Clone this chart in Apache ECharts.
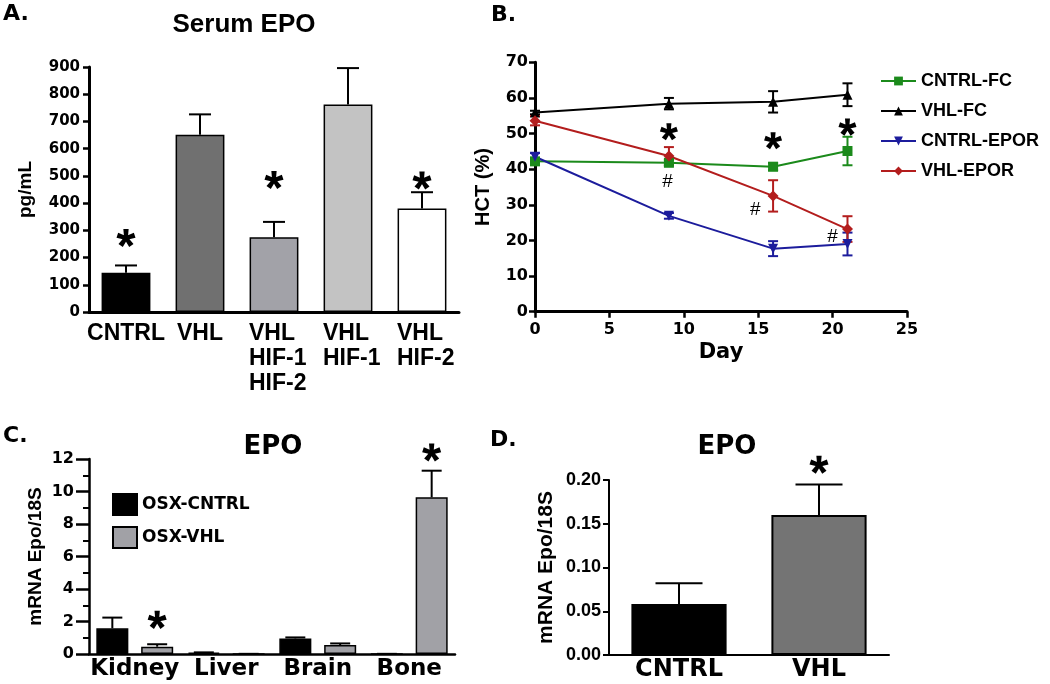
<!DOCTYPE html>
<html><head><meta charset="utf-8">
<script src="https://cdn.jsdelivr.net/npm/echarts@6/dist/echarts.min.js"></script>
<style>html,body{margin:0;padding:0;background:#fff}#c{width:1050px;height:684px}</style>
</head><body><div id="c"></div>
<script>
// ---------- Panel A: Serum EPO ----------
const aCategories = ['CNTRL', 'VHL', 'VHL\nHIF-1\nHIF-2', 'VHL\nHIF-1', 'VHL\nHIF-2'];
const aMeans = [144, 651, 275, 762, 380];
const aErrTop = [171, 726, 331, 896, 440];
const aBarColors = ['#000000', '#707070', '#a2a2a8', '#c3c3c3', '#ffffff'];
const aStars = [[0, 272], [2, 485], [4, 483]];

// ---------- Panel B: HCT ----------
const bDays = [0, 9, 16, 21];
const bNames = ['CNTRL-FC', 'VHL-FC', 'CNTRL-EPOR', 'VHL-EPOR'];
const bCntrlFC = [42.2, 41.8, 40.7, 45.1];
const bCntrlFCErr = [0.8, 0.8, 1.0, 4.0];
const bVhlFC = [55.9, 58.4, 58.9, 60.9];
const bVhlFCErr = [0.5, 1.6, 3.0, 3.2];
const bCntrlEPOR = [43.5, 26.9, 17.7, 19.0];
const bCntrlEPORErr = [1.0, 0.8, 2.1, 3.2];
const bVhlEPOR = [53.6, 43.7, 32.5, 23.2];
const bVhlEPORErr = [1.3, 2.5, 4.4, 3.6];
const bStars = [[9, 50.5], [16, 48.0], [21, 51.8]];
const bHashes = [[8.9, 36.5], [14.8, 28.5], [20.0, 21.0]];

// ---------- Panel C: EPO by tissue ----------
const cCategories = ['Kidney', 'Liver', 'Brain', 'Bone'];
const cNames = ['OSX-CNTRL', 'OSX-VHL'];
const cCntrl = [1.58, 0.08, 0.96, 0.01];
const cCntrlErrTop = [2.24, 0.10, 1.02, 0.01];
const cVhl = [0.45, 0.01, 0.55, 9.64];
const cVhlErrTop = [0.60, 0.01, 0.65, 11.28];
const cStars = [[0, 2.1], [3, 12.4]];

// ---------- Panel D: EPO bone ----------
const dCategories = ['CNTRL', 'VHL'];
const dMeans = [0.0584, 0.160];
const dErrTop = [0.082, 0.195];
const dBarColors = ['#000000', '#747474'];
const dStars = [[1, 0.2174]];

// ---------- styling ----------
const FD = '"DejaVu Sans", sans-serif';
const FL = '"Liberation Sans", Arial, sans-serif';
const bColors = ['#1b8a1b', '#000000', '#1c1c9c', '#b31d1d'];
const bSymbols = ['rect', 'triangle', 'triangle', 'diamond'];
const bRotate = [0, 0, 180, 0];
const C_BAR_W = 0.35, C_BAR_GAP = 0.4;
const cOff = (C_BAR_W + C_BAR_W * C_BAR_GAP) / 2;

function starPath() {
  const angles = [-90, -18, 54, 126, 198];
  const L = 1, hw0 = 0.2, hw1 = 0.29, back = 0.05;
  let d = '';
  for (const a of angles) {
    const t = a * Math.PI / 180, dx = Math.cos(t), dy = Math.sin(t), nx = -dy, ny = dx;
    const pts = [[-dx * back + nx * hw0, -dy * back + ny * hw0], [dx * L + nx * hw1, dy * L + ny * hw1],
                 [dx * L - nx * hw1, dy * L - ny * hw1], [-dx * back - nx * hw0, -dy * back - ny * hw0]];
    d += 'M' + pts.map(p => p[0].toFixed(3) + ' ' + p[1].toFixed(3)).join('L') + 'Z';
  }
  return d;
}
const STAR = starPath();

function errRender(capW, lw, twoSided, colors) {
  return function (params, api) {
    const x = api.value(0), lo = api.value(1), hi = api.value(2), off = api.value(3), ci = api.value(4);
    const band = api.size([1, 0])[0];
    const p0 = api.coord([x, lo]), p1 = api.coord([x, hi]);
    const cx = p0[0] + (off || 0) * band;
    const col = colors[ci || 0];
    const st = { stroke: col, lineWidth: lw };
    const ch = [
      { type: 'line', shape: { x1: cx, y1: p0[1], x2: cx, y2: p1[1] }, style: st },
      { type: 'line', shape: { x1: cx - capW / 2, y1: p1[1], x2: cx + capW / 2, y2: p1[1] }, style: st }
    ];
    if (twoSided) ch.push({ type: 'line', shape: { x1: cx - capW / 2, y1: p0[1], x2: cx + capW / 2, y2: p0[1] }, style: st });
    return { type: 'group', children: ch };
  };
}
function starRender(size, off) {
  return function (params, api) {
    const p = api.coord([api.value(0), api.value(1)]);
    const band = api.size([1, 0])[0];
    const cx = p[0] + (off || 0) * band;
    return { type: 'path', shape: { pathData: STAR, x: cx - size / 2, y: p[1] - size / 2, width: size, height: size, layout: 'center' }, style: { fill: '#000' } };
  };
}
function hashRender(params, api) {
  const p = api.coord([api.value(0), api.value(1)]);
  return { type: 'text', x: p[0], y: p[1], style: { text: '#', font: '19px ' + FL, fill: '#000', align: 'center', verticalAlign: 'middle' } };
}

const axisBlack = w => ({ show: true, lineStyle: { color: '#000', width: w } });
const tickBlack = (len, w) => ({ show: true, length: len, lineStyle: { color: '#000', width: w } });

const bSeriesVals = [bCntrlFC, bVhlFC, bCntrlEPOR, bVhlEPOR];
const bSeriesErr = [bCntrlFCErr, bVhlFCErr, bCntrlEPORErr, bVhlEPORErr];
const bErrData = [];
bSeriesVals.forEach((vals, si) => vals.forEach((v, i) => bErrData.push([bDays[i], v - bSeriesErr[si][i], v + bSeriesErr[si][i], 0, si])));

const option = {
  animation: false,
  backgroundColor: '#fff',
  grid: [
    { left: 89, top: 67, width: 370, height: 245 },
    { left: 535, top: 62.3, width: 372, height: 249.4 },
    { left: 89, top: 459, width: 366, height: 195 },
    { left: 609, top: 480, width: 280, height: 175 }
  ],
  xAxis: [
    { type: 'category', gridIndex: 0, data: aCategories, axisLine: axisBlack(3), axisTick: { show: false },
      axisLabel: { interval: 0, margin: 9, color: '#000',
        formatter: v => v.indexOf('\n') >= 0 ? v.split('\n').map(s => '{m|' + s + '}').join('\n') : '{s|' + v + '}',
        rich: {
          m: { fontFamily: FL, fontWeight: 'bold', fontSize: 23, lineHeight: 25, width: 50, align: 'left', color: '#000' },
          s: { fontFamily: FL, fontWeight: 'bold', fontSize: 23, lineHeight: 25, color: '#000' }
        } } },
    { type: 'value', gridIndex: 1, min: 0, max: 25, interval: 5, axisLine: axisBlack(3), axisTick: tickBlack(6, 2.5),
      splitLine: { show: false },
      axisLabel: { color: '#000', fontFamily: FD, fontWeight: 'bold', fontSize: 16, margin: 10 },
      name: 'Day', nameLocation: 'middle', nameGap: 30,
      nameTextStyle: { color: '#000', fontFamily: FD, fontWeight: 'bold', fontSize: 21 } },
    { type: 'category', gridIndex: 2, data: cCategories, axisLine: axisBlack(2.5), axisTick: { show: false },
      axisLabel: { interval: 0, color: '#000', fontFamily: FD, fontWeight: 'bold', fontSize: 23, margin: 4 } },
    { type: 'category', gridIndex: 3, data: dCategories, axisLine: axisBlack(2), axisTick: { show: false },
      axisLabel: { interval: 0, color: '#000', fontFamily: FD, fontWeight: 'bold', fontSize: 24, margin: 3 } }
  ],
  yAxis: [
    { type: 'value', gridIndex: 0, min: 0, max: 900, interval: 100, axisLine: axisBlack(3), axisTick: tickBlack(6, 2.5),
      splitLine: { show: false },
      axisLabel: { color: '#000', fontFamily: FD, fontWeight: 'bold', fontSize: 15, margin: 9 },
      name: 'pg/mL', nameLocation: 'middle', nameGap: 54,
      nameTextStyle: { color: '#000', fontFamily: FL, fontWeight: 'bold', fontSize: 19 } },
    { type: 'value', gridIndex: 1, min: 0, max: 70, interval: 10, axisLine: axisBlack(3), axisTick: tickBlack(6, 2.5),
      splitLine: { show: false },
      axisLabel: { color: '#000', fontFamily: FD, fontWeight: 'bold', fontSize: 16, margin: 7 },
      name: 'HCT (%)', nameLocation: 'middle', nameGap: 42,
      nameTextStyle: { color: '#000', fontFamily: FL, fontWeight: 'bold', fontSize: 20 } },
    { type: 'value', gridIndex: 2, min: 0, max: 12, interval: 2, axisLine: axisBlack(2.5), axisTick: tickBlack(13, 2.5),
      minorTick: { show: true, splitNumber: 2, length: 6, lineStyle: { color: '#000', width: 2 } },
      splitLine: { show: false }, minorSplitLine: { show: false },
      axisLabel: { color: '#000', fontFamily: FD, fontWeight: 'bold', fontSize: 16, margin: 15 },
      name: 'mRNA Epo/18S', nameLocation: 'middle', nameGap: 44,
      nameTextStyle: { color: '#000', fontFamily: FL, fontWeight: 'bold', fontSize: 19 } },
    { type: 'value', gridIndex: 3, min: 0, max: 0.2, interval: 0.05, axisLine: axisBlack(2), axisTick: tickBlack(6, 2),
      splitLine: { show: false },
      axisLabel: { color: '#000', fontFamily: FL, fontWeight: 'bold', fontSize: 18, margin: 8, formatter: v => v.toFixed(2) },
      name: 'mRNA Epo/18S', nameLocation: 'middle', nameGap: 52,
      nameTextStyle: { color: '#000', fontFamily: FL, fontWeight: 'bold', fontSize: 21 } }
  ],
  legend: [
    { orient: 'vertical', left: 875, top: 67, itemWidth: 35, itemHeight: 11, itemGap: 12, data: bNames,
      textStyle: { color: '#000', fontFamily: FL, fontWeight: 'bold', fontSize: 18 } },
    { orient: 'vertical', left: 107, top: 488, itemWidth: 24, itemHeight: 21, itemGap: 10, icon: 'rect', data: cNames,
      textStyle: { color: '#000', fontFamily: FD, fontWeight: 'bold', fontSize: 17 } }
  ],
  graphic: [
    { type: 'text', x: 3, y: 14, style: { text: 'A.', font: 'bold 22px ' + FD, fill: '#000', verticalAlign: 'middle' } },
    { type: 'text', x: 491, y: 15, style: { text: 'B.', font: 'bold 22px ' + FD, fill: '#000', verticalAlign: 'middle' } },
    { type: 'text', x: 3, y: 436, style: { text: 'C.', font: 'bold 22px ' + FD, fill: '#000', verticalAlign: 'middle' } },
    { type: 'text', x: 490, y: 440, style: { text: 'D.', font: 'bold 22px ' + FD, fill: '#000', verticalAlign: 'middle' } },
    { type: 'text', x: 244, y: 25, style: { text: 'Serum EPO', font: 'bold 26px ' + FL, fill: '#000', align: 'center', verticalAlign: 'middle' } },
    { type: 'text', x: 273, y: 447, style: { text: 'EPO', font: 'bold 26px ' + FD, fill: '#000', align: 'center', verticalAlign: 'middle' } },
    { type: 'text', x: 727, y: 447, style: { text: 'EPO', font: 'bold 26px ' + FD, fill: '#000', align: 'center', verticalAlign: 'middle' } }
  ],
  series: [
    // Panel A
    { type: 'bar', xAxisIndex: 0, yAxisIndex: 0, barWidth: '66%', z: 3,
      itemStyle: { borderColor: '#000', borderWidth: 1.5 },
      data: aMeans.map((v, i) => ({ value: v, itemStyle: { color: aBarColors[i] } })) },
    { type: 'custom', xAxisIndex: 0, yAxisIndex: 0, z: 2, renderItem: errRender(22, 2, false, ['#000']),
      data: aMeans.map((v, i) => [i, v, aErrTop[i], 0, 0]) },
    { type: 'custom', xAxisIndex: 0, yAxisIndex: 0, z: 4, renderItem: starRender(19, 0), data: aStars },
    // Panel B
    { type: 'custom', xAxisIndex: 1, yAxisIndex: 1, z: 2, renderItem: errRender(10, 2, true, bColors), data: bErrData },
    ...bNames.map((n, si) => ({
      name: n, type: 'line', xAxisIndex: 1, yAxisIndex: 1, z: 3,
      data: bDays.map((d, i) => [d, bSeriesVals[si][i]]),
      symbol: bSymbols[si], symbolRotate: bRotate[si], symbolSize: si === 3 ? 11 : 10, showSymbol: true,
      color: bColors[si], itemStyle: { color: bColors[si] }, lineStyle: { color: bColors[si], width: 2 }
    })),
    { type: 'custom', xAxisIndex: 1, yAxisIndex: 1, z: 4, renderItem: starRender(18, 0), data: bStars },
    { type: 'custom', xAxisIndex: 1, yAxisIndex: 1, z: 4, renderItem: hashRender, data: bHashes },
    // Panel C
    { name: cNames[0], type: 'bar', xAxisIndex: 2, yAxisIndex: 2, barWidth: (C_BAR_W * 100) + '%', barGap: (C_BAR_GAP * 100) + '%', z: 3,
      itemStyle: { color: '#000000', borderColor: '#000', borderWidth: 1.5 }, data: cCntrl },
    { name: cNames[1], type: 'bar', xAxisIndex: 2, yAxisIndex: 2, barWidth: (C_BAR_W * 100) + '%', barGap: (C_BAR_GAP * 100) + '%', z: 3,
      itemStyle: { color: '#a1a1a6', borderColor: '#000', borderWidth: 1.5 }, data: cVhl },
    { type: 'custom', xAxisIndex: 2, yAxisIndex: 2, z: 2, renderItem: errRender(20, 2, false, ['#000']),
      data: cCntrl.map((v, i) => [i, v, cCntrlErrTop[i], -cOff, 0]).concat(cVhl.map((v, i) => [i, v, cVhlErrTop[i], cOff, 0])) },
    { type: 'custom', xAxisIndex: 2, yAxisIndex: 2, z: 4, renderItem: starRender(19, cOff), data: cStars },
    // Panel D
    { type: 'bar', xAxisIndex: 3, yAxisIndex: 3, barWidth: '68%', z: 3,
      itemStyle: { borderColor: '#000', borderWidth: 2 },
      data: dMeans.map((v, i) => ({ value: v, itemStyle: { color: dBarColors[i] } })) },
    { type: 'custom', xAxisIndex: 3, yAxisIndex: 3, z: 2, renderItem: errRender(47, 2, false, ['#000']),
      data: dMeans.map((v, i) => [i, v, dErrTop[i], 0, 0]) },
    { type: 'custom', xAxisIndex: 3, yAxisIndex: 3, z: 4, renderItem: starRender(19, 0), data: dStars }
  ]
};
const chart = echarts.init(document.getElementById('c'), null, { renderer: 'canvas' });
chart.setOption(option);
</script>
</body></html>
